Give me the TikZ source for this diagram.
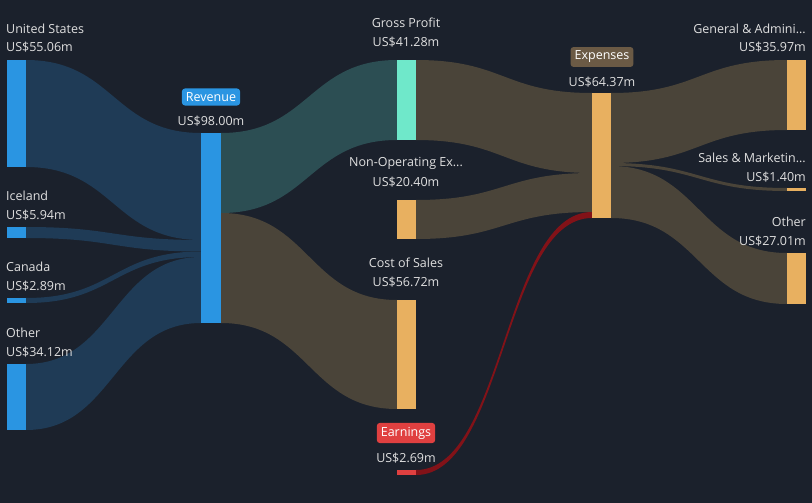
\documentclass[tikz,border=0pt]{standalone}
\usepackage{fontspec}
\setmainfont{Open Sans}
\begin{document}
\begin{tikzpicture}[x=1pt,y=-1pt,
  lbl/.style={text=white!88!black,font=\fontsize{12.5}{14}\selectfont,inner sep=0pt},
  tag/.style={rounded corners=3pt,text=white,font=\fontsize{12.5}{14}\selectfont,inner sep=4pt},
  bar/.style={draw=none}]
\definecolor{bg}{HTML}{1B212C}
\definecolor{fblue}{HTML}{1F3B56}
\definecolor{fteal}{HTML}{2C4E53}
\definecolor{fbrown}{HTML}{4A4439}
\definecolor{cblue}{HTML}{2A95E2}
\definecolor{cmint}{HTML}{6FE8CA}
\definecolor{corange}{HTML}{E8B060}
\definecolor{cred}{HTML}{E04040}
\definecolor{ctag}{HTML}{6B5A45}
\fill[bg] (0,0) rectangle (812,503);
\newcommand{\flow}[7]{\fill[#7] (#1,#2) .. controls ({(#1+#4)/2},#2) and ({(#1+#4)/2},#5) .. (#4,#5) -- (#4,#6) .. controls ({(#1+#4)/2},#6) and ({(#1+#4)/2},#3) .. (#1,#3) -- cycle;}
% flows
\flow{26}{60}{167}{201}{133}{240}{fblue}
\flow{26}{227}{238}{201}{240}{251.5}{fblue}
\flow{26}{298}{303}{201}{251.5}{257}{fblue}
\flow{26}{364}{430}{201}{257}{323}{fblue}
\flow{221}{133}{213}{397}{60}{140}{fteal}
\flow{221}{213}{323}{397}{300}{409}{fbrown}
\flow{416}{60}{140}{592}{93}{173}{fbrown}
\flow{416}{200}{239}{592}{173}{212}{fbrown}
\flow{416}{470}{475}{592}{212}{218}{red!45!bg}
\flow{611}{93}{163}{787}{60}{130}{fbrown}
\flow{611}{163}{166}{787}{188}{191}{fbrown}
\flow{611}{166}{218}{787}{253}{304}{fbrown}
% bars
\fill[cblue] (7,60) rectangle (26,167);
\fill[cblue] (7,227) rectangle (26,238);
\fill[cblue] (7,298) rectangle (26,303);
\fill[cblue] (7,364) rectangle (26,430);
\fill[cblue] (201,133) rectangle (221,323);
\fill[cmint] (397,60) rectangle (416,140);
\fill[corange] (397,200) rectangle (416,239);
\fill[corange] (397,300) rectangle (416,409);
\fill[cred] (397,470) rectangle (416,475);
\fill[corange] (592,93) rectangle (611,218);
\fill[corange] (787,60) rectangle (806,130);
\fill[corange] (787,188) rectangle (806,191);
\fill[corange] (787,253) rectangle (806,304);
% labels
\node[lbl,anchor=west] (l1) at (6,29) {United States};
\node[lbl,anchor=west] (v1) at (6,47) {US\$55.06m};
\node[lbl,anchor=west] (l2) at (6,196) {Iceland};
\node[lbl,anchor=west] (v2) at (6,215) {US\$5.94m};
\node[lbl,anchor=west] (l3) at (6,267) {Canada};
\node[lbl,anchor=west] (v3) at (6,286) {US\$2.89m};
\node[lbl,anchor=west] (l4) at (6,333) {Other};
\node[lbl,anchor=west] (v4) at (6,352) {US\$34.12m};
\node[tag,fill=cblue] (rev) at (211,97) {Revenue};
\node[lbl] (vrev) at (211,121) {US\$98.00m};
\node[lbl] (lgp) at (406,23) {Gross Profit};
\node[lbl] (vgp) at (406,42) {US\$41.28m};
\node[lbl] (lno) at (406,163) {Non-Operating Ex...};
\node[lbl] (vno) at (406,182) {US\$20.40m};
\node[lbl] (lcs) at (406,263) {Cost of Sales};
\node[lbl] (vcs) at (406,282) {US\$56.72m};
\node[tag,fill=cred] (earn) at (406,433) {Earnings};
\node[lbl] (vearn) at (406,458) {US\$2.69m};
\node[tag,fill=ctag] (exp) at (602,57) {Expenses};
\node[lbl] (vexp) at (602,82) {US\$64.37m};
\node[lbl,anchor=east] (lga) at (806,29) {General \& Admini...};
\node[lbl,anchor=east] (vga) at (806,47) {US\$35.97m};
\node[lbl,anchor=east] (lsm) at (806,158) {Sales \& Marketin...};
\node[lbl,anchor=east] (vsm) at (806,177) {US\$1.40m};
\node[lbl,anchor=east] (lot) at (806,222) {Other};
\node[lbl,anchor=east] (vot) at (806,241) {US\$27.01m};
\end{tikzpicture}
\end{document}
